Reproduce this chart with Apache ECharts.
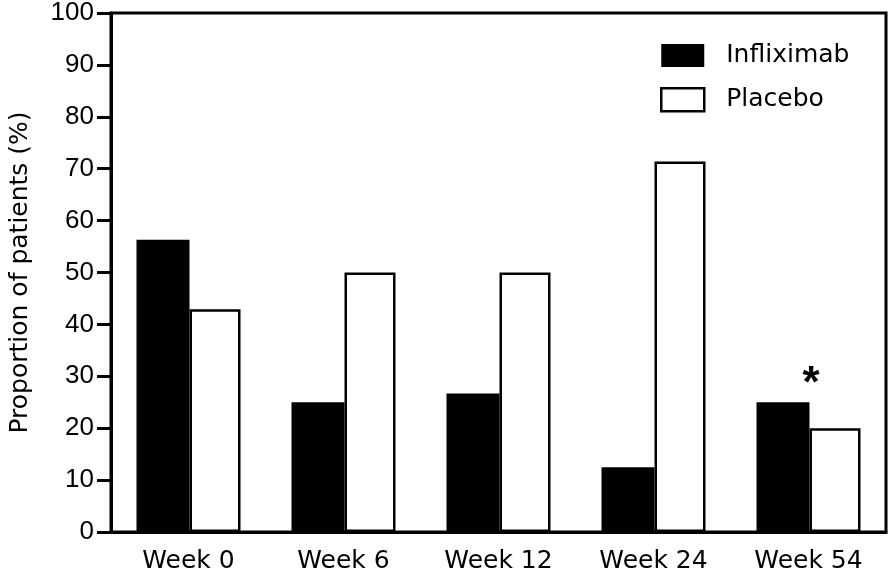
<!DOCTYPE html>
<html>
<head>
<meta charset="utf-8">
<script src="https://cdn.jsdelivr.net/npm/echarts@6/dist/echarts.min.js"></script>
<style>html,body{margin:0;padding:0;background:#fff;}#chart{width:894px;height:574px;}</style>
</head>
<body>
<div id="chart"></div>
<script>
var categories = ['Week 0', 'Week 6', 'Week 12', 'Week 24', 'Week 54'];
var infliximab = [56.3, 25.0, 26.7, 12.5, 25.0];
var placebo = [42.9, 50.0, 50.0, 71.4, 20.0];
var significance = ['', '', '', '', '*'];
var yTicks = [0, 10, 20, 30, 40, 50, 60, 70, 80, 90, 100];

var font = '"DejaVu Sans", sans-serif';
var numFont = '"Liberation Sans", Arial, sans-serif';
var chart = echarts.init(document.getElementById('chart'), null, {renderer: 'canvas'});

var infData = infliximab.map(function (v, i) {
  var d = {value: v};
  if (significance[i]) {
    d.label = {
      show: true, position: 'top', formatter: significance[i],
      fontSize: 44, fontWeight: 'bold', color: '#000', fontFamily: numFont,
      offset: [28, 10]
    };
  }
  return d;
});

chart.setOption({
  animation: false,
  backgroundColor: '#fff',
  grid: {left: 109, right: 8, top: 12, bottom: 41, show: true, borderColor: '#000', borderWidth: 3, backgroundColor: 'transparent'},
  legend: {
    orient: 'vertical', left: 660, top: 43, padding: 0, itemWidth: 43, itemHeight: 23, itemGap: 19,
    icon: 'rect',
    textStyle: {fontSize: 25, color: '#000', fontFamily: font, padding: [0, 0, 0, 17]},
    data: [
      {name: 'Infliximab', itemStyle: {color: '#000', borderColor: '#000', borderWidth: 0}},
      {name: 'Placebo', itemStyle: {color: '#fff', borderColor: '#000', borderWidth: 2.5}}
    ]
  },
  xAxis: {
    type: 'category', data: categories, boundaryGap: true,
    axisLine: {lineStyle: {color: '#000', width: 3}},
    axisTick: {show: false},
    axisLabel: {color: '#000', fontSize: 25, fontFamily: font, margin: 17}
  },
  yAxis: {
    type: 'value', min: 0, max: 100, interval: 10,
    name: 'Proportion of patients (%)', nameLocation: 'middle', nameGap: 78,
    nameTextStyle: {fontSize: 25, color: '#000', fontFamily: font},
    axisLine: {show: true, lineStyle: {color: '#000', width: 3}},
    axisTick: {show: true, length: 14, lineStyle: {color: '#000', width: 3}},
    axisLabel: {color: '#000', fontSize: 26, fontFamily: numFont, margin: 17,
      formatter: function (v) { return yTicks.indexOf(v) >= 0 ? String(v) : ''; }},
    splitLine: {show: false}
  },
  series: [
    {name: 'Infliximab', type: 'bar', data: infData, barWidth: 53, barGap: '0%',
      itemStyle: {color: '#000', borderColor: '#000', borderWidth: 0}},
    {name: 'Placebo', type: 'bar', data: placebo, barWidth: 51,
      itemStyle: {color: '#fff', borderColor: '#000', borderWidth: 2.5}}
  ]
});
</script>
</body>
</html>
